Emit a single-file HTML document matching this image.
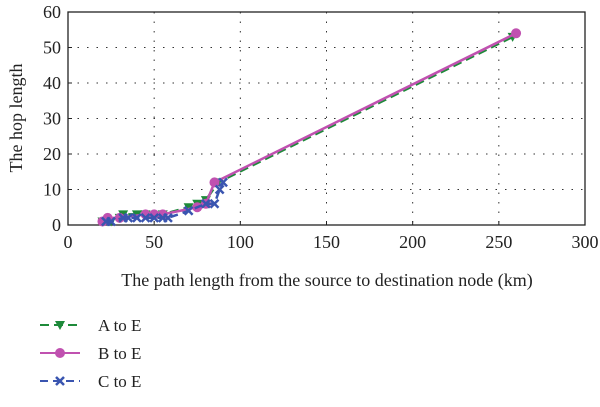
<!DOCTYPE html>
<html><head><meta charset="utf-8"><style>
body{margin:0;background:#fff;font-family:"Liberation Serif",serif}
svg text{font-family:"Liberation Serif",serif;fill:#222}
</style></head><body>
<svg id="c" width="600" height="402"></svg>
<script>
const xTicks=[0,50,100,150,200,250,300];
const yTicks=[0,10,20,30,40,50,60];
const aX=[20,25,30,32,40,45,55,70,75,80,87,258];
const aY=[1,1,2,3,3,3,3,5,6,7,12,53];
const bX=[20,23,30,45,50,55,75,80,85,260];
const bY=[1,2,2,3,3,3,5,6,12,54];
const cX=[22,25,32,35,40,45,50,55,58,70,80,85,88,90];
const cY=[1,1,2,2,2,2,2,2,2,4,6,6,10,12];
const NS="http://www.w3.org/2000/svg",svg=document.getElementById('c');
const L=68,R=585,T=12,B=225;
const sx=v=>L+(R-L)*v/300, sy=v=>B-(B-T)*v/60;
function el(t,a,p){const e=document.createElementNS(NS,t);for(const k in a)e.setAttribute(k,a[k]);(p||svg).appendChild(e);return e;}
const grid=el('g',{});
xTicks.slice(1,-1).forEach(v=>el('line',{x1:sx(v),x2:sx(v),y1:T,y2:B,stroke:'#333','stroke-dasharray':'1.5,8'},grid));
yTicks.slice(1,-1).forEach(v=>el('line',{x1:L,x2:R,y1:sy(v),y2:sy(v),stroke:'#333','stroke-dasharray':'1.5,8'},grid));
const fr=el('rect',{x:L,y:T,width:R-L,height:B-T,fill:'none',stroke:'#222','stroke-width':1.3});

xTicks.forEach(v=>{el('line',{x1:sx(v),x2:sx(v),y1:B,y2:B-4,stroke:'#222'});
 const t=el('text',{x:sx(v),y:B+23,'text-anchor':'middle','font-size':18});t.textContent=v;
 });
yTicks.forEach(v=>{el('line',{x1:L,x2:L+4,y1:sy(v),y2:sy(v),stroke:'#222'});
 const t=el('text',{x:L-7,y:sy(v)+6,'text-anchor':'end','font-size':18});t.textContent=v;
 });
let t=el('text',{x:327,y:286,'text-anchor':'middle','font-size':18});t.textContent='The path length from the source to destination node (km)';

t=el('text',{x:0,y:0,'text-anchor':'middle','font-size':18,transform:'translate(22,118) rotate(-90)'});t.textContent='The hop length';

function marker(type,x,y,col,g){
 if(type==='tri')el('polygon',{points:`${x-5},${y-4} ${x+5},${y-4} ${x},${y+5}`,fill:col},g);
 else if(type==='dot')el('circle',{cx:x,cy:y,r:5,fill:col},g);
 else{el('path',{d:`M${x-4},${y-4}L${x+4},${y+4}M${x-4},${y+4}L${x+4},${y-4}`,stroke:col,'stroke-width':2.5},g);}
}
function series(xs,ys,col,dash,type,name){
 const g=el('g',{});
 el('polyline',{points:xs.map((v,i)=>sx(v)+','+sy(ys[i])).join(' '),fill:'none',stroke:col,'stroke-width':2.5,'stroke-dasharray':dash},g);
 xs.forEach((v,i)=>marker(type,sx(v),sy(ys[i]),col,g));
}
series(aX,aY,'#1e8a3a','9,5','tri','series-a-to-e');
series(bX,bY,'#c051b0','none','dot','series-b-to-e');
series(cX,cY,'#3a55b0','8,5','x','series-c-to-e');
const leg=[['A to E','#1e8a3a','9,5','tri',325],['B to E','#c051b0','none','dot',353],['C to E','#3a55b0','8,5','x',381]];
leg.forEach(l=>{const g=el('g',{});
 el('line',{x1:40,x2:80,y1:l[4],y2:l[4],stroke:l[1],'stroke-width':2,'stroke-dasharray':l[2]},g);
 marker(l[3],60,l[4],l[1],g);
 const tx=el('text',{x:98,y:l[4]+6,'font-size':17},g);tx.textContent=l[0];});
</script>
</body></html>
